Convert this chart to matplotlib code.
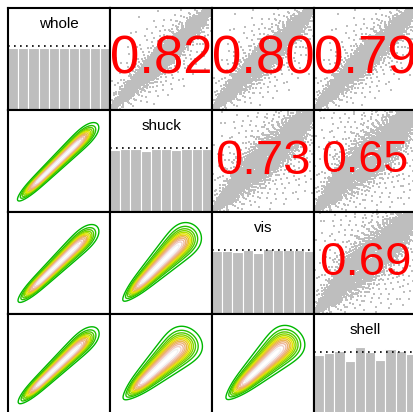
import colorsys
import math
import numpy as np
import matplotlib
matplotlib.use("Agg")
import matplotlib.pyplot as plt

plt.rcParams["font.family"] = ["Liberation Sans", "DejaVu Sans"]

names = ["whole", "shuck", "vis", "shell"]

# pairs (row var, col var) and the coefficient printed in the upper panel
pairs = [(0, 1), (0, 2), (0, 3), (1, 2), (1, 3), (2, 3)]
cor_vals = [0.82, 0.80, 0.79, 0.73, 0.65, 0.69]
cor_size = [38, 38, 38, 35.4, 32.2, 34.2]

# histogram of each variable's rank scores, relative to the dotted level
hist_whole = [0.975, 0.975, 0.975, 0.975, 0.975, 0.975, 0.975, 0.975, 0.975, 0.975]
hist_shuck = [0.968, 0.984, 0.984, 0.953, 0.984, 0.984, 0.968, 0.984, 0.984, 0.984]
hist_vis = [0.99, 0.99, 0.968, 1.0, 0.957, 1.02, 1.0, 1.0, 1.0, 0.99]
hist_shell = [0.964, 0.985, 1.016, 0.86, 1.078, 1.0, 0.882, 1.058, 1.016, 0.975]
hists = [hist_whole, hist_shuck, hist_vis, hist_shell]

# shape of each pair's density (panel units):
# ends of the outer contour along the diagonal, width across it, widening
end_lo = [-0.559, -0.55, -0.544, -0.523, -0.495, -0.488]
end_hi = [0.523, 0.516, 0.516, 0.495, 0.467, 0.48]
across_sd = [0.031, 0.036, 0.036, 0.052, 0.062, 0.060]
widen = [0.55, 0.65, 0.65, 1.1, 1.2, 1.2]
tilt = [-0.019, -0.02, -0.027, 0.0, -0.045, -0.036]
n_obs = 4177

W, H = 414, 412
cell = 102
soft = 0.08
fig = plt.figure(figsize=(W / 100, H / 100), dpi=100)


def terrain(n):
    k = n // 2
    out = []
    for h, s, v in zip(np.linspace(4 / 12, 2 / 12, k), np.linspace(1, 1, k), np.linspace(0.72, 0.9, k)):
        out.append(colorsys.hsv_to_rgb(h, s, v))
    m = n - k + 1
    for h, s, v in list(zip(np.linspace(2 / 12, 0, m), np.linspace(1, 0, m), np.linspace(0.9, 0.95, m)))[1:]:
        out.append(colorsys.hsv_to_rgb(h, s, v))
    return out


erf = np.vectorize(math.erf)


def width(p, t):
    mid = (end_lo[p] + end_hi[p]) / 2
    return across_sd[p] * np.clip(1 + widen[p] * (t - mid), 0.3, None)


def density(p, u, v):
    t = ((u - 0.5) + (v - 0.5)) / np.sqrt(2)
    n = ((v - 0.5) - (u - 0.5)) / np.sqrt(2) - tilt[p] * t
    a = end_lo[p] + 1.55 * soft
    b = end_hi[p] - 1.55 * soft
    along = 0.5 * (erf((t - a) / (soft * np.sqrt(2))) - erf((t - b) / (soft * np.sqrt(2))))
    return along * np.exp(-0.5 * (n / width(p, t)) ** 2)


# quasi-uniform (low discrepancy) points, mapped through each pair's density shape
g = 1.22074408460575947536
kk = np.arange(1, n_obs + 1)
qa = (0.5 + kk / g) % 1
qb = (0.5 + kk / g ** 2) % 1
qc = (0.5 + kk / g ** 3) % 1
z1 = np.sqrt(-2 * np.log(qa)) * np.cos(2 * np.pi * qb)
z2 = np.sqrt(-2 * np.log(qa)) * np.sin(2 * np.pi * qb)


def cloud(p):
    mid = (end_lo[p] + end_hi[p]) / 2
    t = mid + 0.22 * z1
    n = 0.6 * width(p, t) * z2 * np.where(qc > 0.9, 3.5, 1.0) + tilt[p] * t
    u = (t - n) / np.sqrt(2)
    v = (t + n) / np.sqrt(2)
    ru = np.argsort(np.argsort(u)) / (n_obs - 1)
    rv = np.argsort(np.argsort(v)) / (n_obs - 1)
    return ru, rv


grid = np.linspace(0, 1, 240)
gu, gv = np.meshgrid(grid, grid)
levels = np.linspace(0.06, 0.94, 12)
cols = terrain(len(levels))

for i in range(4):
    for j in range(4):
        ax = fig.add_axes([(8 + cell * j) / W, 1 - (8 + cell * (i + 1)) / H, cell / W, cell / H])
        ax.set_xticks([])
        ax.set_yticks([])
        for s in ax.spines.values():
            s.set_linewidth(1.5)
            s.set_color("black")
        ax.set_xlim(0, 1)
        if i == j:
            ax.bar(np.arange(10) / 10, hists[i], width=0.1, align="edge",
                   color="#BEBEBE", edgecolor="white", linewidth=0.8)
            ax.axhline(1, color="black", lw=1.2, ls=(0, (1, 2.6)), zorder=3)
            ax.set_ylim(0, 1.6)
            ax.text(0.5, 0.84, names[i], transform=ax.transAxes, ha="center",
                    va="center", fontsize=11)
        elif i < j:
            p = pairs.index((i, j))
            ru, rv = cloud(p)
            ax.scatter(ru, rv, s=1.9, marker="s", color="#BEBEBE", linewidths=0)
            ax.set_ylim(0, 1)
            ax.text(0.5, 0.5, f"{cor_vals[p]:.2f}", color="red", ha="center", va="center",
                    fontsize=cor_size[p], transform=ax.transAxes)
        else:
            p = pairs.index((j, i))
            ax.contour(gu, gv, density(p, gu, gv), levels=levels, colors=cols, linewidths=1.0)
            ax.set_ylim(0, 1)

fig.savefig("out.png", dpi=100)
